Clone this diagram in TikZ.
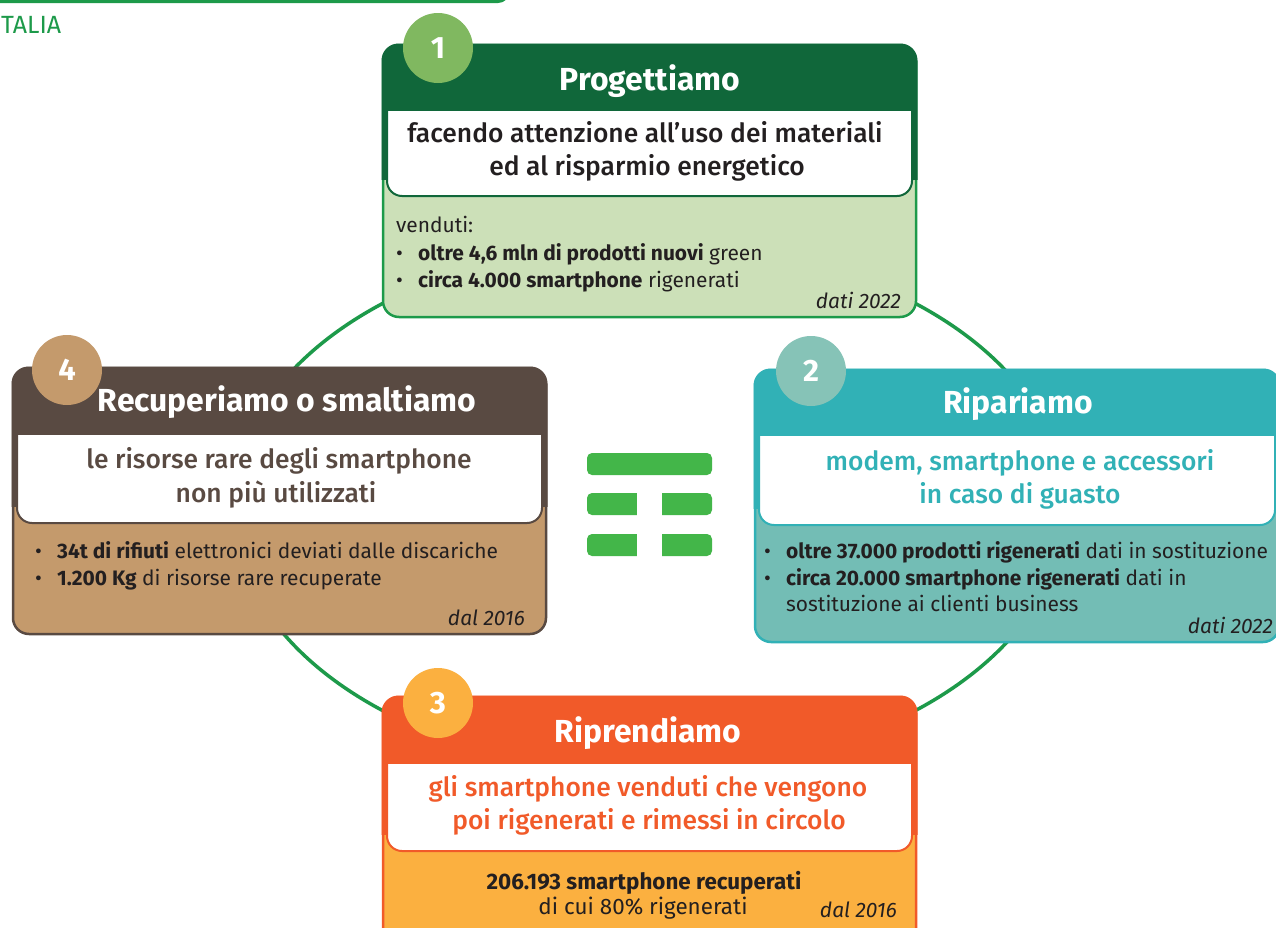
\documentclass[tikz,border=0pt]{standalone}
\usepackage{fontspec}
\setmainfont{Fira Sans}
\IfFontExistsTF{Fira Sans Medium}{\newfontfamily\medio{Fira Sans Medium}}{%
  \IfFontExistsTF{FiraSans-Medium.otf}{\newfontfamily\medio{FiraSans-Medium.otf}}{\newfontfamily\medio{Fira Sans}[FakeBold=1]}}

\definecolor{verdeScuro}{HTML}{10673A}
\definecolor{verdeAnello}{HTML}{1D9A4A}
\definecolor{verdeTondo}{HTML}{80B860}
\definecolor{verdeFondo}{HTML}{CCE0B8}
\definecolor{tealTesta}{HTML}{31B1B6}
\definecolor{tealTondo}{HTML}{86C3B7}
\definecolor{tealFondo}{HTML}{73BDB5}
\definecolor{aranTesta}{HTML}{F15A29}
\definecolor{aranFondo}{HTML}{FBB040}
\definecolor{marrTesta}{HTML}{594A42}
\definecolor{marrFondo}{HTML}{C49A6C}
\definecolor{icona}{HTML}{43B649}
\definecolor{testo}{HTML}{231F20}

\newcommand\punto{\makebox[22bp][l]{•}}
% scheda: L T R B fine-testata fine-bianco testata fondo bordo
\newcommand\scheda[9]{%
  \draw[fill=#8, draw=#9, line width=2.5bp, rounded corners=16bp] (#1,#2) rectangle (#3,#4);
  \begin{scope}
    \clip[rounded corners=17bp] (#1-1.5,#2-1.5) rectangle (#3+1.5,#4+1.5);
    \fill[#7] (#1-2,#2-2) rectangle (#3+2,#6-16);
  \end{scope}
  \begin{scope}
    \clip (#1,#5) rectangle (#3,#4);
    \draw[fill=white, draw=#7, line width=2bp, rounded corners=15bp] (#1+4,#5-20) rectangle (#3-4,#6);
  \end{scope}}

\begin{document}
\begin{tikzpicture}[x=1bp, y=-1bp,
  titolo/.style={text=white, font=\bfseries\fontsize{32}{32}\selectfont, anchor=base, inner sep=0},
  sotto/.style={font=\medio\fontsize{26.5}{26.5}\selectfont, anchor=base, inner sep=0},
  riga/.style={text=testo, font=\fontsize{21}{21}\selectfont, anchor=base west, inner sep=0},
  data/.style={text=testo, font=\itshape\fontsize{21}{21}\selectfont, anchor=base east, inner sep=0},
  numero/.style={circle, minimum size=70bp, inner sep=0, text=white, font=\bfseries\fontsize{31}{31}\selectfont},
  anello/.style={draw=verdeAnello, line width=3.5bp}]
\useasboundingbox (0,0) rectangle (1276,928);
\clip (0,0) rectangle (1276,928);
\fill[white] (0,0) rectangle (1276,928);

% bordo in alto
\draw[verdeAnello, line width=3bp, rounded corners=10bp] (-20,-40) rectangle (508,1.5);
\node[anchor=base west, text=verdeAnello, font=\fontsize{25}{25}\selectfont, inner sep=0] (italia) at (1,33) {TALIA};

% anello
\draw[anello] (649,507) ellipse (416 and 265);

% icona
\fill[icona, rounded corners=5bp] (587,453) rectangle (712,475);
\fill[icona, rounded corners=5bp] (587,493) rectangle (712,515);
\fill[icona, rounded corners=5bp] (587,534) rectangle (712,556);
\fill[white] (637,488) rectangle (662,560);

% 1
\scheda{383}{45}{916}{317}{111}{196}{verdeScuro}{verdeFondo}{verdeAnello}
\node[titolo] (p1) at (650,90) {Progettiamo};
\node[sotto, text=testo] (p1a) at (645,142) {facendo attenzione all’uso dei materiali};
\node[sotto, text=testo] (p1b) at (647,175) {ed al risparmio energetico};
\node[riga] (p1c) at (396,232) {venduti:};
\node[riga] (p1d) at (396,260) {\punto\textbf{oltre 4,6 mln di prodotti nuovi} green};
\node[riga] (p1e) at (396,287) {\punto\textbf{circa 4.000 smartphone} rigenerati};
\node[data] (p1f) at (901,308) {dati 2022};
\node[numero, fill=verdeTondo] (n1) at (438,48) {1};

% 2
\scheda{755}{370}{1279}{642}{436}{525}{tealTesta}{tealFondo}{tealTesta}
\node[titolo] (p2) at (1018,413) {Ripariamo};
\node[sotto, text=tealTesta] (p2a) at (1020,470) {modem, smartphone e accessori};
\node[sotto, text=tealTesta] (p2b) at (1020,503) {in caso di guasto};
\node[riga] (p2c) at (764,558) {\punto\textbf{oltre 37.000 prodotti rigenerati} dati in sostituzione};
\node[riga] (p2d) at (764,585) {\punto\textbf{circa 20.000 smartphone rigenerati} dati in};
\node[riga] (p2e) at (786,611) {sostituzione ai clienti business};
\node[data] (p2f) at (1273,633) {dati 2022};
\node[numero, fill=tealTondo] (n2) at (811,371) {2};

% 3
\scheda{383}{697}{916}{950}{764}{851}{aranTesta}{aranFondo}{aranTesta}
\node[titolo] (p3) at (648,742) {Riprendiamo};
\node[sotto, text=aranTesta] (p3a) at (648,796) {gli smartphone venduti che vengono};
\node[sotto, text=aranTesta] (p3b) at (649,829) {poi rigenerati e rimessi in circolo};
\node[riga, anchor=base, font=\bfseries\fontsize{22.5}{22.5}\selectfont] (p3c) at (644,889) {206.193 smartphone recuperati};
\node[riga, anchor=base, font=\fontsize{22.5}{22.5}\selectfont] (p3d) at (643,914) {di cui 80\% rigenerati};
\node[data] (p3e) at (897,917) {dal 2016};
\node[numero, fill=aranFondo] (n3) at (438,703) {3};

% 4
\scheda{13}{368}{546}{634}{435}{523}{marrTesta}{marrFondo}{marrTesta}
\node[titolo] (p4) at (287,411) {Recuperiamo o smaltiamo};
\node[sotto, text=marrTesta] (p4a) at (279,468) {le risorse rare degli smartphone};
\node[sotto, text=marrTesta] (p4b) at (276,502) {non più utilizzati};
\node[riga] (p4c) at (35,558) {\punto\textbf{34t di rifiuti} elettronici deviati dalle discariche};
\node[riga] (p4d) at (35,585) {\punto\textbf{1.200 Kg} di risorse rare recuperate};
\node[data] (p4e) at (525,625) {dal 2016};
\node[numero, fill=marrFondo] (n4) at (67,370) {4};
\end{tikzpicture}
\end{document}
